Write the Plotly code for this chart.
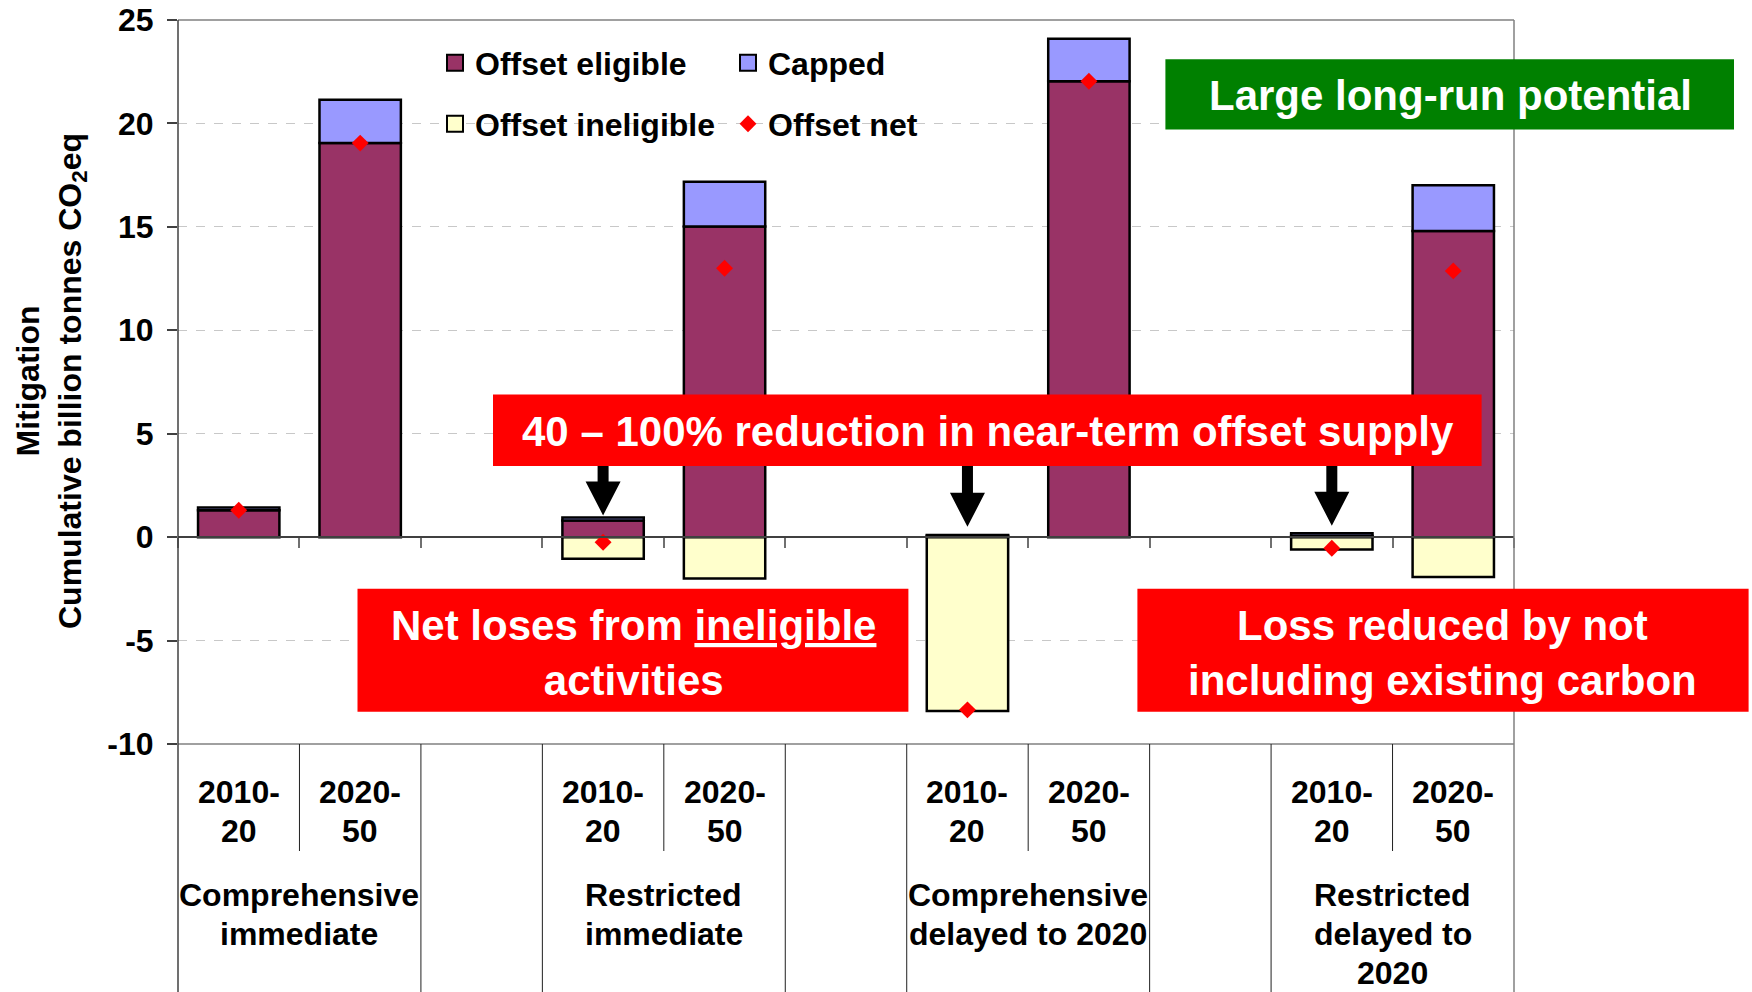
import plotly.graph_objects as go

# ---------------- data ----------------
categories = [
    "Comprehensive immediate 2010-20", "Comprehensive immediate 2020-50", " ",
    "Restricted immediate 2010-20", "Restricted immediate 2020-50", "  ",
    "Comprehensive delayed 2010-20", "Comprehensive delayed 2020-50", "   ",
    "Restricted delayed 2010-20", "Restricted delayed 2020-50",
]
period_labels = ["2010-<br>20", "2020-<br>50", "",
                 "2010-<br>20", "2020-<br>50", "",
                 "2010-<br>20", "2020-<br>50", "",
                 "2010-<br>20", "2020-<br>50"]
group_labels = ["Comprehensive<br>immediate", "Restricted<br>immediate",
                "Comprehensive<br>delayed to 2020", "Restricted<br>delayed to<br>2020"]
group_centers = [0.5, 3.5, 6.5, 9.5]

offset_eligible = [1.30, 19.05, None, 0.80, 15.02, None, 0.05, 22.04, None, 0.06, 14.80]
capped = [0.13, 2.10, None, 0.15, 2.16, None, 0.05, 2.05, None, 0.13, 2.21]
offset_ineligible = [None, None, None, -1.05, -2.00, None, -8.40, None, None, -0.60, -1.93]
offset_net = [1.30, 19.05, None, -0.25, 13.00, None, -8.35, 22.04, None, -0.54, 12.87]

y_ticks = [-10, -5, 0, 5, 10, 15, 20, 25]
y_tick_text = ["-10", "-5", "0", "5", "10", "15", "20", "25"]

# colours
C_ELIG = "#993366"
C_CAP = "#9999FF"
C_INEL = "#FFFFCC"
C_NET = "#FF0000"

FONT = "Liberation Sans, Arial, Helvetica, sans-serif"

# ---------------- geometry helpers (pixel -> paper) ----------------
W_FIG, H_FIG = 1752, 992
L, R, T, B = 178, 1514, 20, 744
PW, PH = R - L, B - T
Y_MIN, Y_MAX = -10, 25
n = len(categories)


def px_x(px):
    return (px - L) / PW


def px_y(py):
    return (B - py) / PH


def cat_px(i):
    return L + (i + 0.5) * PW / n


def val_px(v):
    return B - (v - Y_MIN) / (Y_MAX - Y_MIN) * PH


fig = go.Figure()

bar_line = dict(color="black", width=2.5)
fig.add_trace(go.Bar(x=categories, y=offset_eligible, name="Offset eligible",
                     marker=dict(color=C_ELIG, line=bar_line), showlegend=False))
fig.add_trace(go.Bar(x=categories, y=capped, name="Capped",
                     marker=dict(color=C_CAP, line=bar_line), showlegend=False))
fig.add_trace(go.Bar(x=categories, y=offset_ineligible, name="Offset ineligible",
                     marker=dict(color=C_INEL, line=bar_line), showlegend=False))
fig.add_trace(go.Scatter(x=categories, y=offset_net, mode="markers", name="Offset net",
                         marker=dict(symbol="diamond", size=13, color=C_NET,
                                     line=dict(width=0)),
                         legend="legend2", legendrank=2))

# legend swatches (larger squares than bar icons)
for nm, col, lg, rk in [("Offset eligible", C_ELIG, "legend", 1),
                        ("Capped", C_CAP, "legend", 2),
                        ("Offset ineligible", C_INEL, "legend2", 1)]:
    fig.add_trace(go.Scatter(x=[None], y=[None], mode="markers", name=nm,
                             marker=dict(symbol="square", size=16, color=col,
                                         line=dict(color="black", width=2)),
                             legend=lg, legendrank=rk))

# ---------------- shapes ----------------
shapes = []
line_gray = "#808080"
line_dark = "#404040"
bottom_img = px_y(H_FIG)
# frame
shapes.append(dict(type="line", xref="paper", yref="paper", x0=0, x1=1, y0=1, y1=1,
                   line=dict(color=line_gray, width=1.5)))
shapes.append(dict(type="line", xref="paper", yref="paper", x0=0, x1=1, y0=0, y1=0,
                   line=dict(color=line_gray, width=1.5)))
shapes.append(dict(type="line", xref="paper", yref="paper", x0=1, x1=1, y0=bottom_img, y1=1,
                   line=dict(color=line_gray, width=1.5)))
shapes.append(dict(type="line", xref="paper", yref="paper", x0=0, x1=0, y0=bottom_img, y1=1,
                   line=dict(color=line_dark, width=1.5)))
# table dividers
for k in range(1, n):
    short = k in (1, 4, 7, 10)
    shapes.append(dict(type="line", xref="paper", yref="paper", x0=k / n, x1=k / n,
                       y0=px_y(851) if short else bottom_img, y1=0,
                       line=dict(color="#202020", width=1)))
# callout boxes
shapes.append(dict(type="rect", xref="paper", yref="paper", x0=px_x(493), x1=px_x(1481.6),
                   y0=px_y(466), y1=px_y(394.4), fillcolor="#FF0000", line=dict(width=0)))
shapes.append(dict(type="rect", xref="paper", yref="paper", x0=px_x(357.5), x1=px_x(908.4),
                   y0=px_y(711.7), y1=px_y(588.8), fillcolor="#FF0000", line=dict(width=0)))
shapes.append(dict(type="rect", xref="paper", yref="paper", x0=px_x(1137.4), x1=px_x(1748.6),
                   y0=px_y(711.7), y1=px_y(588.8), fillcolor="#FF0000", line=dict(width=0)))
shapes.append(dict(type="rect", xref="paper", yref="paper", x0=px_x(1165.4), x1=px_x(1734),
                   y0=px_y(129.6), y1=px_y(59.2), fillcolor="#008000", line=dict(width=0)))

# block arrows from the banner down to the near-term bars
banner_bottom_px = 466
SHAFT, HEAD_W, HEAD_L = 5.5, 17.5, 34
for idx, tip in [(3, 1.05), (6, 0.50), (9, 0.55)]:
    cx = cat_px(idx)
    ty = val_px(tip)
    hy = ty - HEAD_L
    pts = [(cx - SHAFT, banner_bottom_px), (cx + SHAFT, banner_bottom_px),
           (cx + SHAFT, hy), (cx + HEAD_W, hy), (cx, ty),
           (cx - HEAD_W, hy), (cx - SHAFT, hy)]
    path = "M " + " L ".join(f"{px_x(px):.5f},{px_y(py):.5f}" for px, py in pts) + " Z"
    shapes.append(dict(type="path", xref="paper", yref="paper", path=path,
                       fillcolor="black", line=dict(width=0)))

# ---------------- annotations ----------------
ann = []
black32 = dict(family=FONT, size=32, color="black", weight="bold")
white42 = dict(family=FONT, size=42, color="white", weight="bold")

ann.append(dict(text="Mitigation<br>Cumulative billion tonnes CO<sub>2</sub>eq",
                xref="paper", yref="paper", x=px_x(51), y=px_y(381), textangle=-90,
                showarrow=False, font=black32, xanchor="center", yanchor="middle"))

# category table text: one annotation per line for exact line spacing
LINE_STEP = 39
for i, lab in enumerate(period_labels):
    if lab:
        for j, line in enumerate(lab.split("<br>")):
            ann.append(dict(text=line, xref="x", yref="paper", x=i,
                            y=px_y(792 + j * LINE_STEP),
                            xanchor="center", yanchor="middle", showarrow=False,
                            font=black32))
for gx, lab in zip(group_centers, group_labels):
    for j, line in enumerate(lab.split("<br>")):
        ann.append(dict(text=line, xref="x", yref="paper", x=gx,
                        y=px_y(895 + j * LINE_STEP),
                        xanchor="center", yanchor="middle", showarrow=False,
                        font=black32))

box_texts = [
    ("40 \u2013 100% reduction in near-term offset supply", 987.7, 431),
    ("Net loses from <u>ineligible</u><br>activities", 633, 653),
    ("Loss reduced by not<br>including existing carbon", 1442.5, 653),
    ("Large long-run potential", 1450, 96),
]
for txt, cx, cy in box_texts:
    ann.append(dict(text=txt, xref="paper", yref="paper", x=px_x(cx), y=px_y(cy),
                    xanchor="center", yanchor="middle", showarrow=False, font=white42))

fig.update_layout(
    width=W_FIG, height=H_FIG,
    margin=dict(l=L, r=W_FIG - R, t=T, b=H_FIG - B, pad=0, autoexpand=False),
    paper_bgcolor="white", plot_bgcolor="white",
    font=dict(family=FONT, size=32, color="black", weight="bold"),
    barmode="relative", bargap=0.33,
    showlegend=True,
    legend=dict(orientation="h", x=px_x(435), y=px_y(63), xanchor="left", yanchor="middle",
                entrywidth=248, entrywidthmode="pixels", bgcolor="rgba(0,0,0,0)",
                font=dict(family=FONT, size=32, color="black", weight="bold"),
                traceorder="normal"),
    legend2=dict(orientation="h", x=px_x(435), y=px_y(124), xanchor="left", yanchor="middle",
                 entrywidth=248, entrywidthmode="pixels", bgcolor="rgba(0,0,0,0)",
                 font=dict(family=FONT, size=32, color="black", weight="bold"),
                 traceorder="normal"),
    xaxis=dict(type="category", range=[-0.5, n - 0.5], anchor="free", position=10 / 35,
               showline=True, linecolor=line_dark, linewidth=1.5, automargin=False,
               ticks="outside", tickson="boundaries", ticklen=10, tickcolor="#707070",
               tickwidth=1.5, showticklabels=False, showgrid=False, fixedrange=True),
    yaxis=dict(range=[Y_MIN, Y_MAX], tickvals=y_ticks, ticktext=y_tick_text, automargin=False,
               ticks="outside", ticklen=10,
               tickcolor=line_dark, tickwidth=1.5, ticklabelstandoff=7,
               tickfont=dict(family=FONT, size=32, color="black", weight="bold"),
               showgrid=True, gridcolor="#C8C8C8", griddash="dash", gridwidth=1,
               zeroline=False, showline=False, fixedrange=True),
    shapes=shapes,
    annotations=ann,
    hovermode=False,
)

fig.write_html("out.html", post_script="document.body.style.margin='0';",
               config={"displayModeBar": False})
